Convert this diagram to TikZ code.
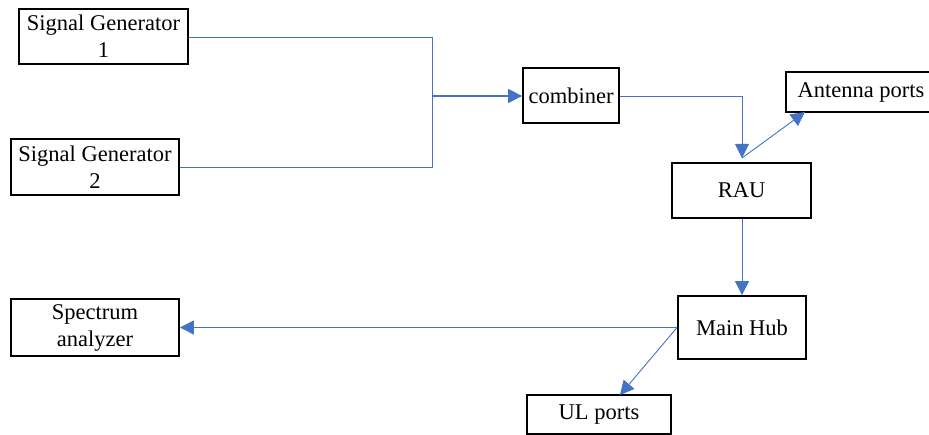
\documentclass[tikz,border=0pt]{standalone}
\usepackage{fontspec}
\setmainfont{Liberation Serif}
\usetikzlibrary{arrows.meta}
\definecolor{linkblue}{HTML}{4472C4}
\begin{document}
\begin{tikzpicture}[x=1pt,y=-1pt,
  blockbox/.style={draw=black,line width=1.8pt,fill=white,inner sep=0pt,
    align=center,font=\fontsize{22.5}{27}\selectfont},
  link/.style={draw=linkblue,line width=0.9pt},
  tip/.style={-{Triangle[length=14pt,width=14pt]}}]
\useasboundingbox (0,0) rectangle (929,435);
\clip (0,0) rectangle (929,435);

% blocks
\node[blockbox,minimum width=169,minimum height=55] (sg1) at (103.5,36.5) {Signal Generator\\1};
\node[blockbox,minimum width=168,minimum height=56] (sg2) at (95,167) {Signal Generator\\2};
\node[blockbox,minimum width=96,minimum height=55] (comb) at (571,95.5) {combiner};
\node[blockbox,minimum width=150,minimum height=40] (ant) at (861,92) {Antenna ports};
\node[blockbox,minimum width=139,minimum height=55] (rau) at (741.5,190.5) {RAU};
\node[blockbox,minimum width=128,minimum height=63] (hub) at (742,327.5) {Main Hub};
\node[blockbox,minimum width=168,minimum height=57] (spec) at (95,327.5) {Spectrum\\analyzer};
\node[blockbox,minimum width=144,minimum height=39] (ul) at (599,414.5) {UL ports};

% connection points
\coordinate (jn) at (432,96);
\coordinate (rt) at (742,158);
\coordinate (antin) at (805,112);
\coordinate (ulin) at (620,395);

% connectors
\draw[link] (sg1.east |- 0,37) -| (jn);
\draw[link] (sg2.east) -| (jn);
\draw[link,line width=1.3pt,tip] (jn) -- (comb.west |- jn);
\draw[link,tip] (comb.east |- jn) -| (rt);
\draw[link,tip] (rt) -- (antin);
\draw[link,tip] (rau.south -| rt) -- (hub.north -| rt);
\draw[link,tip] (hub.west) -- (spec.east);
\draw[link,tip] (hub.west) -- (ulin);
\end{tikzpicture}
\end{document}
